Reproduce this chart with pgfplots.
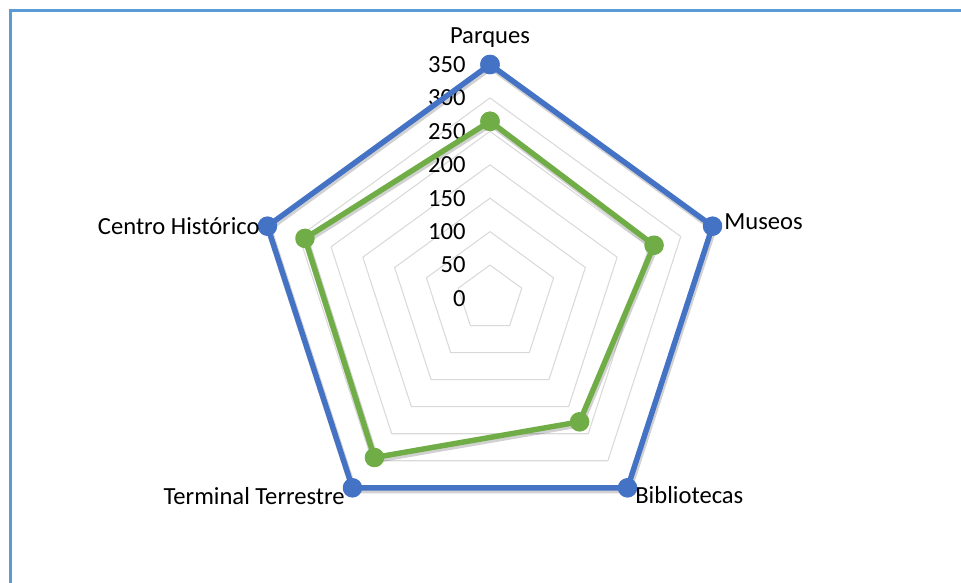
\documentclass[border=0pt]{standalone}
\usepackage{fontspec}
\setmainfont{Carlito}
\usepackage{pgfplots}
\pgfplotsset{compat=1.18}
\usepgfplotslibrary{polar}
\definecolor{serieblue}{HTML}{4472C4}
\definecolor{seriegreen}{HTML}{70AD47}
\definecolor{gridgray}{HTML}{D9D9D9}
\definecolor{framebl}{HTML}{5B9BD5}

\begin{document}
\begin{tikzpicture}[font=\fontsize{14}{16}\selectfont]
  % page = 961 x 583 px, 1 px = 0.02 cm
  \path[use as bounding box] (0,0) rectangle (19.22,-11.66);
  \draw[framebl, line width=1.5pt] (0.216,-11.7) -- (0.216,-0.216) -- (19.3,-0.216);

  \begin{polaraxis}[
    scale only axis, width=9.36cm, height=9.36cm,
    ymin=0, ymax=350, hide axis, clip=false,
    at={(9.8cm,-5.97cm)}, anchor=center
  ]
    % pentagon rings
    \pgfplotsinvokeforeach{50,100,150,200,250,300,350}{
      \addplot[gridgray, line width=0.6pt, line join=round, forget plot]
        coordinates {(90,#1) (18,#1) (-54,#1) (-126,#1) (162,#1) (90,#1)};
    }
    % value labels
    \pgfplotsinvokeforeach{0,50,100,150,200,250,300,350}{
      \node[anchor=east, inner sep=0pt, xshift=-0.48cm] at (axis cs:90,#1) {#1};
    }

    % soft shadows
    \addplot[black, opacity=0.18, line width=3.8pt, line join=round, xshift=0.6pt, yshift=-1.2pt, forget plot]
      coordinates {(90,350) (18,350) (-54,350) (-126,350) (162,350) (90,350)};
    \addplot[black, opacity=0.18, line width=3.8pt, line join=round, xshift=0.6pt, yshift=-1.2pt, forget plot]
      coordinates {(90,265) (18,258) (-54,228) (-126,294) (162,291) (90,265)};

    \addplot[serieblue, line width=3.1pt, line join=round, mark=*, mark size=4pt]
      coordinates {(90,350) (18,350) (-54,350) (-126,350) (162,350) (90,350)};
    \addplot[seriegreen, line width=3.1pt, line join=round, mark=*, mark size=4pt]
      coordinates {(90,265) (18,258) (-54,228) (-126,294) (162,291) (90,265)};
  \end{polaraxis}

  % category labels
  \node[anchor=base, inner sep=0pt] at (9.8,-0.874) {Parques};
  \node[anchor=base west, inner sep=0pt] at (14.48,-4.58) {Museos};
  \node[anchor=base west, inner sep=0pt] at (12.7,-10.07) {Bibliotecas};
  \node[anchor=base east, inner sep=0pt] at (6.9,-10.09) {Terminal Terrestre};
  \node[anchor=base east, inner sep=0pt] at (5.2,-4.68) {Centro Histórico};
\end{tikzpicture}
\end{document}
